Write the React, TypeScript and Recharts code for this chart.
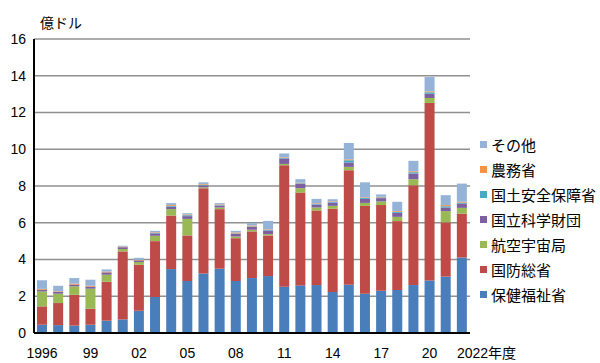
import React from 'react';
import { BarChart, Bar, XAxis, YAxis, CartesianGrid } from 'recharts';

const years = [
  '1996', '1997', '1998', '1999', '2000', '2001', '2002', '2003', '2004', '2005',
  '2006', '2007', '2008', '2009', '2010', '2011', '2012', '2013', '2014', '2015',
  '2016', '2017', '2018', '2019', '2020', '2021', '2022',
];

// labels shown under the axis (every 3rd year + last)
const tickLabels: Record<string, string> = {
  '1996': '1996', '1999': '99', '2002': '02', '2005': '05', '2008': '08',
  '2011': '11', '2014': '14', '2017': '17', '2020': '20', '2022': '2022年度',
};

const yTicks = [0, 2, 4, 6, 8, 10, 12, 14, 16];

const hhs = [0.45, 0.43, 0.4, 0.45, 0.67, 0.74, 1.21, 1.96, 3.48, 2.83, 3.24, 3.5, 2.83, 2.99, 3.1, 2.52, 2.59, 2.61, 2.23, 2.63, 2.14, 2.3, 2.34, 2.61, 2.86, 3.07, 4.11];
const dod = [1.0, 1.2, 1.68, 0.87, 2.12, 3.7, 2.5, 3.04, 2.91, 2.48, 4.64, 3.24, 2.33, 2.54, 2.21, 6.61, 5.05, 4.06, 4.53, 6.23, 4.78, 4.66, 3.75, 5.43, 9.66, 2.95, 2.39];
const nasa = [0.81, 0.51, 0.46, 1.09, 0.38, 0.13, 0.15, 0.29, 0.35, 0.9, 0.05, 0.09, 0.09, 0.09, 0.07, 0.07, 0.24, 0.16, 0.16, 0.18, 0.16, 0.2, 0.23, 0.33, 0.27, 0.61, 0.31];
const nsf = [0.1, 0.1, 0.1, 0.12, 0.13, 0.1, 0.09, 0.13, 0.13, 0.15, 0.1, 0.1, 0.14, 0.15, 0.2, 0.3, 0.24, 0.16, 0.18, 0.24, 0.22, 0.18, 0.22, 0.31, 0.23, 0.2, 0.24];
const dhs = [0, 0, 0, 0, 0, 0, 0, 0.03, 0.05, 0.05, 0.03, 0.03, 0.03, 0.03, 0.03, 0.03, 0.03, 0.04, 0.04, 0.12, 0.06, 0.04, 0.06, 0.07, 0.08, 0.07, 0.05];
const usda = [0.04, 0.03, 0.05, 0.04, 0.04, 0.03, 0.03, 0.03, 0.05, 0.04, 0.04, 0.04, 0.05, 0.05, 0.03, 0.03, 0.03, 0.03, 0.03, 0.05, 0.03, 0.03, 0.04, 0.05, 0.05, 0.06, 0.04];
const other = [0.47, 0.3, 0.3, 0.33, 0.12, 0.05, 0.11, 0.08, 0.1, 0.07, 0.1, 0.07, 0.09, 0.13, 0.46, 0.21, 0.19, 0.24, 0.11, 0.89, 0.81, 0.13, 0.5, 0.57, 0.78, 0.54, 0.99];

const series = [
  { key: 'hhs', name: '保健福祉省', color: '#4a7ebb', values: hhs },
  { key: 'dod', name: '国防総省', color: '#be4b48', values: dod },
  { key: 'nasa', name: '航空宇宙局', color: '#98b954', values: nasa },
  { key: 'nsf', name: '国立科学財団', color: '#7d60a0', values: nsf },
  { key: 'dhs', name: '国土安全保障省', color: '#46aac5', values: dhs },
  { key: 'usda', name: '農務省', color: '#f69240', values: usda },
  { key: 'other', name: 'その他', color: '#95b3d7', values: other },
];

const data = years.map((y, i) => {
  const row: any = { year: y };
  series.forEach((s) => { row[s.key] = s.values[i]; });
  return row;
});

const FONT = "'Liberation Sans', Arial, 'Noto Sans CJK JP', sans-serif";

const XTick = ({ x, y, payload }: any) => {
  const label = tickLabels[payload.value];
  if (!label) return null;
  const isLast = payload.value === '2022';
  return (
    <text x={isLast ? x - 5 : x} y={y + 17} textAnchor={isLast ? 'start' : 'middle'} fill="#000" fontSize={14} fontFamily={FONT}>
      {label}
    </text>
  );
};

export default function App() {
  return (
    <div style={{ position: 'absolute', left: 0, top: 0, width: 600, height: 363, background: '#fff' }}>
      <div style={{ position: 'absolute', left: 40, top: 12, fontFamily: FONT, fontSize: 14, color: '#000' }}>億ドル</div>
      <BarChart width={600} height={363} data={data} barSize={10} margin={{ top: 39, right: 130, bottom: 0, left: 0 }}>
        <CartesianGrid vertical={false} stroke="#909090" strokeWidth={1.3} />
        <XAxis
          dataKey="year"
          interval={0}
          tick={<XTick />}
          tickLine={false}
          axisLine={{ stroke: '#000', strokeWidth: 2 }}
          height={30}
        />
        <YAxis
          domain={[0, 16]}
          ticks={yTicks}
          interval={0}
          width={34}
          tickLine={false}
          axisLine={{ stroke: '#000', strokeWidth: 2 }}
          tick={{ fill: '#000', fontSize: 14, fontFamily: FONT }}
        />
        {series.map((s) => (
          <Bar key={s.key} dataKey={s.key} name={s.name} stackId="a" fill={s.color} isAnimationActive={false} />
        ))}
      </BarChart>
      <div style={{ position: 'absolute', left: 480, top: 132, fontFamily: FONT, fontSize: 15, color: '#000' }}>
        {[...series].reverse().map((s) => (
          <div key={`lg-${s.key}`} style={{ display: 'flex', alignItems: 'center', height: 25 }}>
            <span style={{ width: 7, height: 7, backgroundColor: s.color, marginRight: 4, display: 'inline-block' }} />
            <span>{s.name}</span>
          </div>
        ))}
      </div>
    </div>
  );
}
